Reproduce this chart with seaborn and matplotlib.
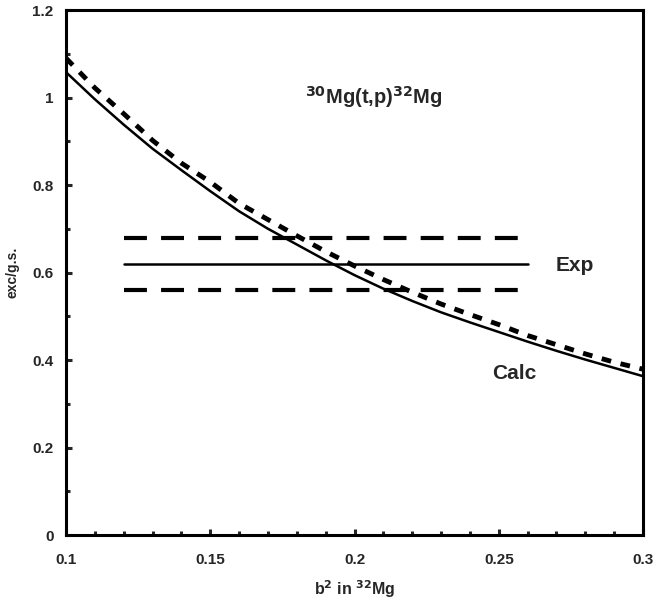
import matplotlib
matplotlib.use("Agg")
import matplotlib.pyplot as plt
import seaborn as sns
import pandas as pd
from matplotlib.ticker import MultipleLocator

b2 = [0.10, 0.11, 0.12, 0.13, 0.14, 0.15, 0.16, 0.17, 0.18, 0.19, 0.20,
      0.21, 0.22, 0.23, 0.24, 0.25, 0.26, 0.27, 0.28, 0.29, 0.30]
calc_solid = [1.058, 0.996, 0.938, 0.883, 0.834, 0.786, 0.740, 0.700, 0.664, 0.628, 0.594,
              0.563, 0.535, 0.509, 0.486, 0.464, 0.442, 0.421, 0.401, 0.382, 0.363]
calc_dashed = [1.090, 1.022, 0.963, 0.902, 0.850, 0.807, 0.758, 0.721, 0.684, 0.648, 0.615,
               0.584, 0.555, 0.528, 0.504, 0.481, 0.456, 0.435, 0.414, 0.395, 0.379]
exp_x = [0.12, 0.26]
exp_val = 0.62
exp_hi = 0.68
exp_lo = 0.56

sns.set_style("white")
plt.rcParams['font.family'] = ['Liberation Sans', 'DejaVu Sans']
plt.rcParams['font.weight'] = 'bold'
plt.rcParams['mathtext.default'] = 'bf'

fig = plt.figure(figsize=(6.54, 6.07), dpi=100)
ax = fig.add_axes([0.1009, 0.1186, 0.8823, 0.8649])

df = pd.DataFrame({"b2": b2, "solid": calc_solid, "dashed": calc_dashed})
sns.lineplot(data=df, x="b2", y="solid", ax=ax, color="black", lw=1.8)
sns.lineplot(data=df, x="b2", y="dashed", ax=ax, color="black", lw=3.5,
             linestyle=(0, (2.0, 2.0)))

ax.plot(exp_x, [exp_val, exp_val], color="black", lw=1.8)
ax.plot(exp_x, [exp_hi, exp_hi], color="black", lw=3, linestyle=(0, (5.5, 3.4)))
ax.plot(exp_x, [exp_lo, exp_lo], color="black", lw=3, linestyle=(0, (5.5, 3.4)))

ax.set_xlim(0.1, 0.3)
ax.set_ylim(0, 1.2)
ax.xaxis.set_minor_locator(MultipleLocator(0.01))
ax.yaxis.set_minor_locator(MultipleLocator(0.1))
ax.set_xticks([0.1, 0.15, 0.2, 0.25, 0.3])
ax.set_xticklabels(["0.1", "0.15", "0.2", "0.25", "0.3"])
ax.set_yticks([0, 0.2, 0.4, 0.6, 0.8, 1.0, 1.2])
ax.set_yticklabels(["0", "0.2", "0.4", "0.6", "0.8", "1", "1.2"])
ax.tick_params(which="major", direction="in", length=4, width=2.2, labelsize=11,
               left=True, bottom=True, top=False, right=False)
ax.tick_params(axis="y", which="major", pad=9)
ax.tick_params(axis="x", which="major", pad=13)
ax.tick_params(which="minor", direction="in", length=3, width=2.2,
               left=True, bottom=True, top=False, right=False)
for lbl in ax.get_xticklabels() + ax.get_yticklabels():
    lbl.set_fontweight("bold")

for s in ax.spines.values():
    s.set_linewidth(2.2)
    s.set_color("black")

ax.set_xlabel(r"b$^{2}$ in $^{32}$Mg", fontsize=11.5, fontweight="bold", labelpad=8)
ax.set_ylabel("exc/g.s.", fontsize=10, fontweight="bold", labelpad=9)

ax.text(0.2065, 1.0, r"$^{30}$Mg(t,p)$^{32}$Mg", fontsize=14.5, fontweight="bold",
        ha="center", va="center")
ax.text(0.2765, 0.617, "Exp", fontsize=15, fontweight="bold", ha="center", va="center")
ax.text(0.2555, 0.37, "Calc", fontsize=15, fontweight="bold", ha="center", va="center")

fig.savefig("out.png", dpi=100)
